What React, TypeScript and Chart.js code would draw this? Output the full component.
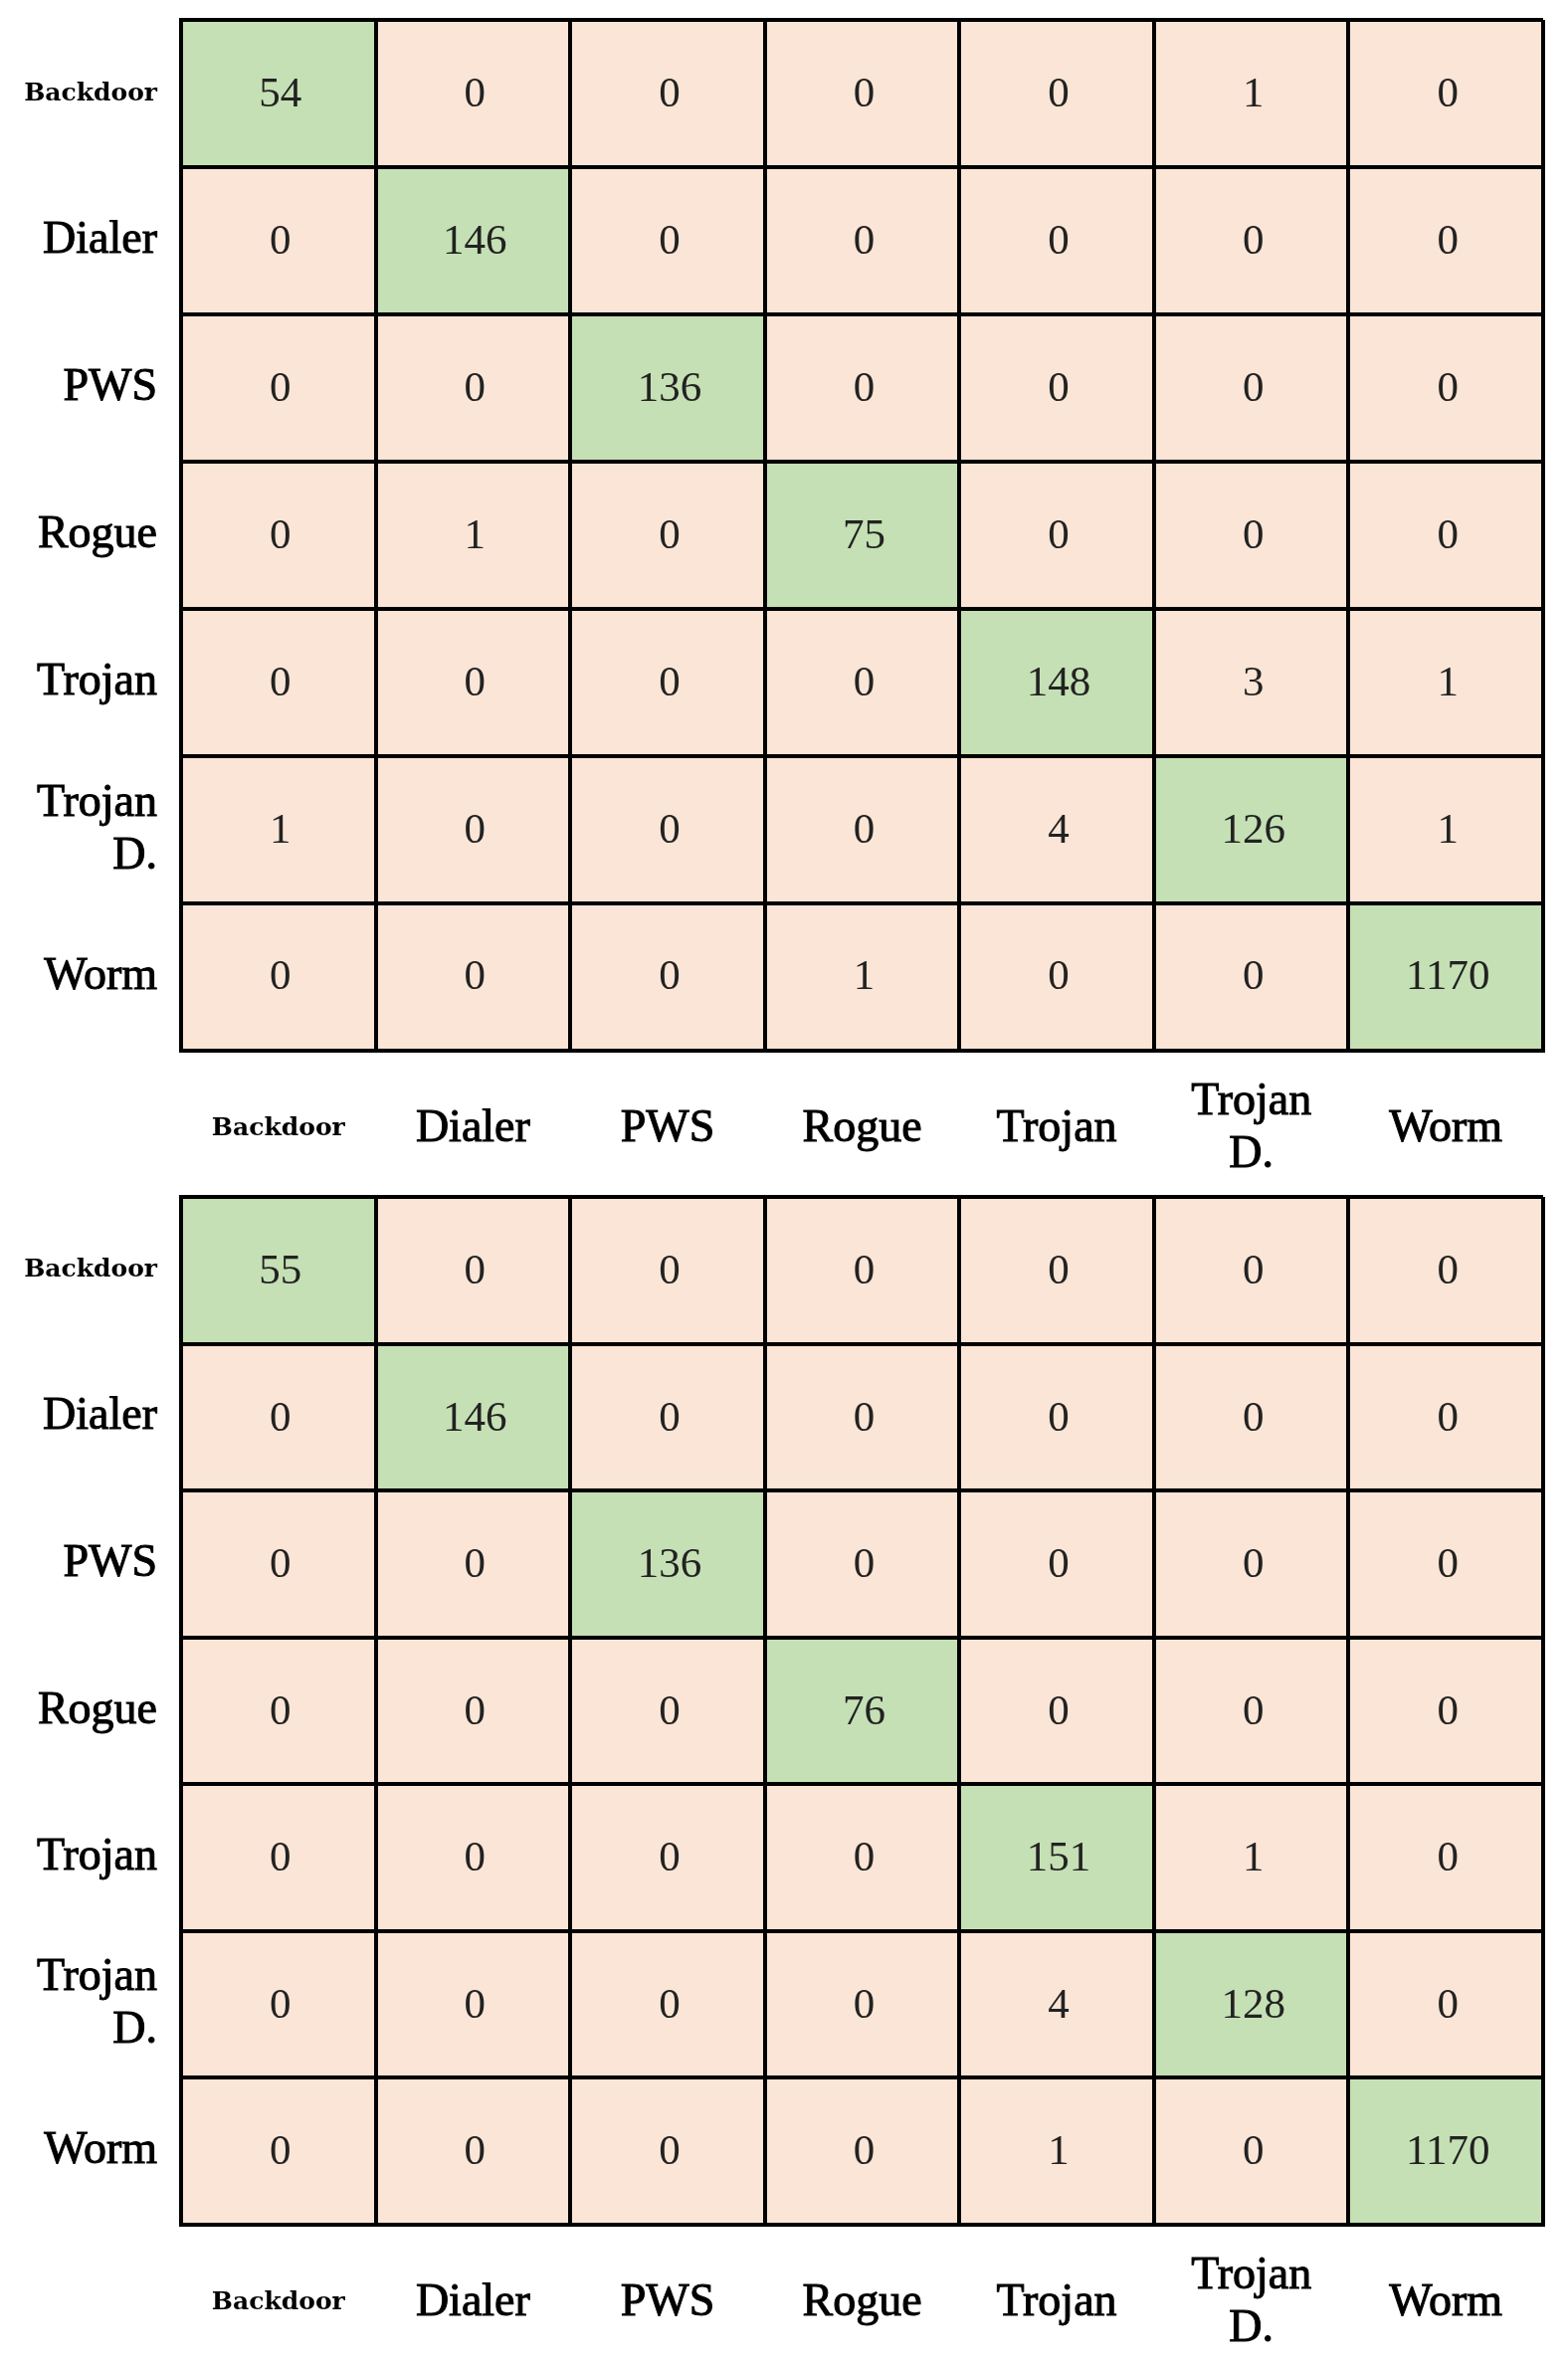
import React, { useEffect, useRef } from 'react';
import { Chart, registerables } from 'chart.js';

Chart.register(...registerables);

// Class names (rows = actual, columns = predicted)
const classLabels: (string | string[])[] = ['Backdoor', 'Dialer', 'PWS', 'Rogue', 'Trojan', ['Trojan', 'D.'], 'Worm'];

// Top confusion matrix
const matrixTop: number[][] = [
  [54, 0, 0, 0, 0, 1, 0],
  [0, 146, 0, 0, 0, 0, 0],
  [0, 0, 136, 0, 0, 0, 0],
  [0, 1, 0, 75, 0, 0, 0],
  [0, 0, 0, 0, 148, 3, 1],
  [1, 0, 0, 0, 4, 126, 1],
  [0, 0, 0, 1, 0, 0, 1170],
];

// Bottom confusion matrix
const matrixBottom: number[][] = [
  [55, 0, 0, 0, 0, 0, 0],
  [0, 146, 0, 0, 0, 0, 0],
  [0, 0, 136, 0, 0, 0, 0],
  [0, 0, 0, 76, 0, 0, 0],
  [0, 0, 0, 0, 151, 1, 0],
  [0, 0, 0, 0, 4, 128, 0],
  [0, 0, 0, 0, 1, 0, 1170],
];

const GREEN = '#C5E0B4';
const PEACH = '#FBE5D6';
const LINE = '#000000';
const LABEL_FONT = { family: '"Liberation Serif", "Times New Roman", serif', size: 46, weight: 'normal' as const, lineHeight: 1.15 };
const SMALL_FONT = { family: '"DejaVu Serif", serif', size: 25, weight: 'bold' as const, lineHeight: 2.1 };
const tickFont = (ctx: any) => (ctx.index === 0 ? SMALL_FONT : LABEL_FONT);
const tickStroke = (ctx: any) => (ctx.index === 0 ? 0 : 1);

const cellValuesPlugin = {
  id: 'cellValues',
  afterDatasetsDraw(chart: any, _args: any, opts: any) {
    const matrix: number[][] = opts.matrix || [];
    const ctx = chart.ctx;
    ctx.save();
    ctx.font = '43px "Liberation Serif", serif';
    ctx.fillStyle = '#222222';
    ctx.textAlign = 'center';
    ctx.textBaseline = 'middle';
    matrix.forEach((row, r) => {
      const meta = chart.getDatasetMeta(r);
      row.forEach((v, c) => {
        const el = meta.data[c];
        if (!el) return;
        const p = el.getCenterPoint();
        ctx.fillText(String(v), p.x + 2, p.y + 2);
      });
    });
    ctx.restore();
  },
};

function buildConfig(matrix: number[][], padTop: number, xAxisHeight: number): any {
  const n = classLabels.length;
  const datasets = matrix.map((row, r) => ({
    label: 'row' + r,
    data: row.map(() => [n - r - 1, n - r]),
    backgroundColor: row.map((_, c) => (c === r ? GREEN : PEACH)),
    borderWidth: 0,
    barPercentage: 1,
    categoryPercentage: 1,
    grouped: false,
    xAxisID: 'x',
    yAxisID: 'y',
  }));
  return {
    type: 'bar',
    data: { labels: classLabels, datasets },
    plugins: [cellValuesPlugin],
    options: {
      responsive: false,
      maintainAspectRatio: false,
      animation: false,
      devicePixelRatio: 1,
      layout: { padding: { top: padTop, right: 25, left: 0, bottom: 0 } },
      plugins: {
        legend: { display: false },
        tooltip: { enabled: false },
        cellValues: { matrix },
      },
      scales: {
        x: {
          type: 'category',
          offset: true,
          grid: { offset: true, color: LINE, lineWidth: 4, drawTicks: false, z: 1 },
          border: { display: true, color: LINE, width: 4, z: 2 },
          ticks: {
            autoSkip: false,
            maxRotation: 0,
            minRotation: 0,
            padding: 52,
            crossAlign: 'center',
            color: '#000',
            font: tickFont,
            textStrokeColor: '#000',
            textStrokeWidth: tickStroke,
          },
          afterFit: (s: any) => {
            s.height = xAxisHeight;
            s.paddingLeft = 0;
            s.paddingRight = 0;
          },
        },
        y: {
          type: 'linear',
          min: 0,
          max: n,
          weight: 0,
          position: 'left',
          grid: { color: LINE, lineWidth: 4, drawTicks: false, z: 1 },
          border: { display: true, color: LINE, width: 4, z: 2 },
          ticks: { stepSize: 1, display: false },
          afterFit: (s: any) => {
            s.width = 0;
            s.paddingTop = 0;
            s.paddingBottom = 0;
          },
        },
        yRows: {
          type: 'category',
          labels: classLabels,
          position: 'left',
          offset: true,
          weight: 1,
          grid: { display: false, drawTicks: false },
          border: { display: false },
          ticks: {
            autoSkip: false,
            padding: 24,
            color: '#000',
            font: tickFont,
            textStrokeColor: '#000',
            textStrokeWidth: tickStroke,
          },
          afterFit: (s: any) => {
            s.width = 182;
            s.paddingTop = 0;
            s.paddingBottom = 0;
          },
        },
      },
    },
  };
}

function MatrixChart(props: { matrix: number[][]; width: number; height: number; padTop: number; xAxisHeight: number }) {
  const ref = useRef<HTMLCanvasElement | null>(null);
  useEffect(() => {
    if (!ref.current) return;
    const chart = new Chart(ref.current, buildConfig(props.matrix, props.padTop, props.xAxisHeight));
    return () => chart.destroy();
  }, [props.matrix, props.padTop, props.xAxisHeight]);
  return (
    <canvas
      ref={ref}
      width={props.width}
      height={props.height}
      style={{ display: 'block', width: props.width, height: props.height }}
    />
  );
}

export default function App() {
  return (
    <div style={{ position: 'absolute', left: 0, top: 0, width: 1576, height: 2379, background: '#fff' }}>
      <MatrixChart matrix={matrixTop} width={1576} height={1180} padTop={20} xAxisHeight={124} />
      <MatrixChart matrix={matrixBottom} width={1576} height={1199} padTop={23} xAxisHeight={143} />
    </div>
  );
}
